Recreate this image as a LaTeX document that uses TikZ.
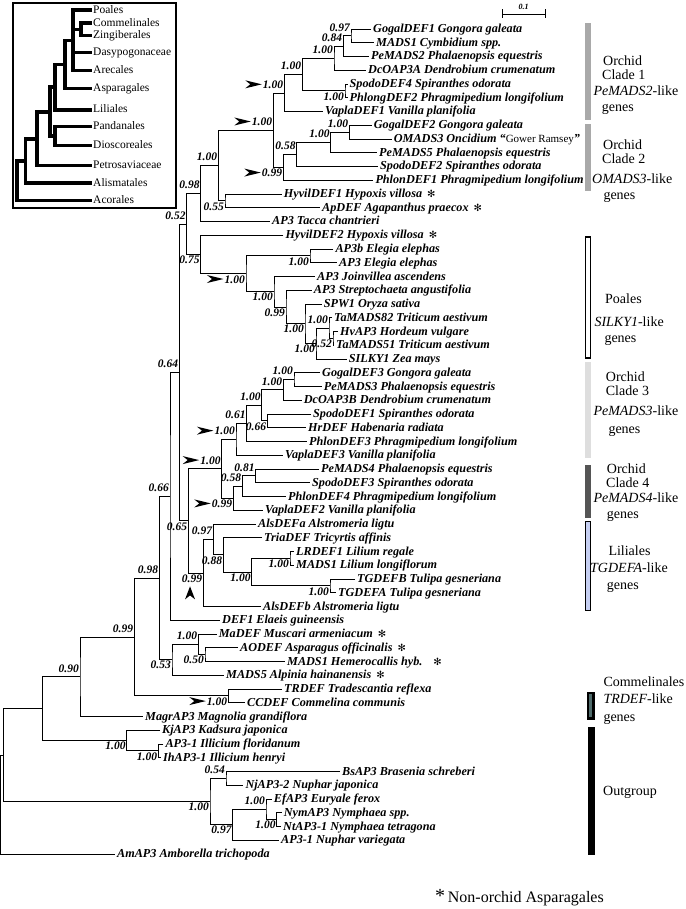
\documentclass[tikz,border=0pt]{standalone}
\usepackage{fontspec}
\setmainfont{Liberation Serif}
\newfontfamily\dejavu{DejaVu Sans}
\usetikzlibrary{calc}

\definecolor{cladegray}{HTML}{A9A9A9}
\definecolor{cladelight}{HTML}{DEDEDE}
\definecolor{cladedark}{HTML}{555555}
\definecolor{lilblue}{HTML}{C6CFF2}
\definecolor{commteal}{HTML}{4F6B6B}

\tikzstyle{branch} = [line width=0.9pt, line join=miter]
\tikzstyle{ibranch} = [line width=3.6pt, line join=miter]
\tikzstyle{leaf} = [anchor=west, inner sep=2pt, text height=9pt, text depth=2pt, font=\fontsize{12.2}{13}\selectfont\bfseries\itshape]
\tikzstyle{ileaf} = [anchor=west, inner sep=1pt, text height=8pt, text depth=2pt, font=\fontsize{11.5}{12}\selectfont]
\tikzstyle{sup} = [inner sep=1pt, text height=8pt, text depth=0pt, font=\fontsize{11.5}{12}\selectfont\bfseries\itshape]
\tikzstyle{supa} = [sup, anchor=south east, yshift=3.5pt]
\tikzstyle{supb} = [sup, anchor=north east]
\tikzstyle{grp} = [anchor=west, inner sep=0pt, text height=9pt, text depth=2.5pt, font=\fontsize{14}{15}\selectfont]
\tikzstyle{bar} = [line width=1.4pt]
\tikzset{pointer/.pic={\fill (0,0) -- (-16.5,4) -- (-11.5,0) -- (-16.5,-4) -- cycle;},
  uppointer/.pic={\fill (0,0) -- (-5,13) -- (0,9) -- (5,13) -- cycle;}}

% clade: [style]{name}{x}{upper child}{lower child}
\newcommand\clade[5][branch]{%
  \path let \p1=(#4), \p2=(#5) in coordinate (#2) at ({#3pt},{0.5*(\y1+\y2)});
  \draw[#1] (#4) -| (#2) |- (#5);}
\newcommand\nast{\hspace{5pt}{\dejavu\mdseries\upshape\fontsize{10}{10}\selectfont ✻}}

\begin{document}
\begin{tikzpicture}[x=1pt, y=-1pt]
\useasboundingbox (0,0) rectangle (685,909);
%begin leaves
\foreach \i/\x/\lab in {1/371/GogalDEF1 Gongora galeata, 2/374/MADS1 Cymbidium spp.,
  3/369/PeMADS2 Phalaenopsis equestris, 4/366/DcOAP3A Dendrobium crumenatum,
  5/347.5/SpodoDEF4 Spiranthes odorata, 6/347.5/PhlongDEF2 Phragmipedium longifolium,
  7/323/VaplaDEF1 Vanilla planifolia, 8/371.7/GogalDEF2 Gongora galeata,
  9/391.7/{OMADS3 Oncidium “{\mdseries\upshape\fontsize{11}{12}\selectfont Gower Ramsey}”},
  10/377/PeMADS5 Phalaenopsis equestris, 11/378/SpodoDEF2 Spiranthes odorata,
  12/373.3/PhlonDEF1 Phragmipedium longifolium, 13/281.7/HyvilDEF1 Hypoxis villosa\nast,
  14/320/ApDEF Agapanthus praecox\nast, 15/270/AP3 Tacca chantrieri,
  16/283.3/HyvilDEF2 Hypoxis villosa\nast, 17/333.3/AP3b Elegia elephas,
  18/337/AP3 Elegia elephas, 19/315/AP3 Joinvillea ascendens,
  20/311.7/AP3 Streptochaeta angustifolia, 21/321.7/SPW1 Oryza sativa,
  22/332/TaMADS82 Triticum aestivum, 23/338/HvAP3 Hordeum vulgare,
  24/334/TaMADS51 Triticum aestivum, 25/346.7/SILKY1 Zea mays,
  26/320/GogalDEF3 Gongora galeata, 27/321.7/PeMADS3 Phalaenopsis equestris,
  28/301.7/DcOAP3B Dendrobium crumenatum, 29/311/SpodoDEF1 Spiranthes odorata,
  30/306/HrDEF Habenaria radiata, 31/307/PhlonDEF3 Phragmipedium longifolium,
  32/283/VaplaDEF3 Vanilla planifolia, 33/319/PeMADS4 Phalaenopsis equestris,
  34/310/SpodoDEF3 Spiranthes odorata, 35/286/PhlonDEF4 Phragmipedium longifolium,
  36/263/VaplaDEF2 Vanilla planifolia, 37/256/AlsDEFa Alstromeria ligtu,
  38/262/TriaDEF Tricyrtis affinis, 39/294/LRDEF1 Lilium regale,
  40/294/MADS1 Lilium longiflorum, 41/355/TGDEFB Tulipa gesneriana,
  42/336/TGDEFA Tulipa gesneriana, 43/261/AlsDEFb Alstromeria ligtu,
  44/220/DEF1 Elaeis guineensis, 45/216.7/MaDEF Muscari armeniacum\nast,
  46/238/AODEF Asparagus officinalis\nast, 47/285/MADS1 Hemerocallis hyb.\hspace{6pt}\nast,
  48/224/MADS5 Alpinia hainanensis\nast, 49/282/TRDEF Tradescantia reflexa,
  50/245/CCDEF Commelina communis, 51/143/MagrAP3 Magnolia grandiflora,
  52/160/KjAP3 Kadsura japonica, 53/163.3/AP3-1 Illicium floridanum,
  54/161/IhAP3-1 Illicium henryi, 55/340/BsAP3 Brasenia schreberi,
  56/243.3/NjAP3-2 Nuphar japonica, 57/271.7/EfAP3 Euryale ferox,
  58/281.7/NymAP3 Nymphaea spp., 59/281/NtAP3-1 Nymphaea tetragona,
  60/279/AP3-1 Nuphar variegata, 61/115/AmAP3 Amborella trichopoda}{
  \coordinate (l\i) at (\x,{29+13.75*(\i-1)});
  \node[leaf] (t\i) at (l\i) {\lab};
}
%end leaves
%begin orchid clade 1
\clade{a1}{351}{l1}{l2}
\clade{a2}{343.3}{a1}{l3}
\clade{a3}{334}{a2}{l4}
\clade{a4}{345}{l5}{l6}
\clade{a5}{302.3}{a3}{a4}
\clade{a6}{284.3}{a5}{l7}
%end orchid clade 1
%begin orchid clade 2
\clade{b1}{349.3}{l8}{l9}
\clade{b2}{330.7}{b1}{l10}
\clade{b3}{296.7}{b2}{l11}
\clade{b4}{283.3}{b3}{l12}
%end orchid clade 2
\clade{ab}{273.3}{a6}{b4}
\clade{hy}{225}{l13}{l14}
\clade{abh}{218.3}{ab}{hy}
\clade{ta}{200.7}{abh}{l15}
%begin poales
\clade{p1}{310}{l17}{l18}
\clade{p2}{333}{l23}{l24}
\clade{p3}{329}{l22}{p2}
\clade{p4}{316}{p3}{l25}
\clade{p5}{305}{l21}{p4}
\clade{p6}{286}{l20}{p5}
\clade{p7}{274}{l19}{p6}
\clade{p8}{246}{p1}{p7}
\clade{p9}{200.7}{l16}{p8}
%end poales
\clade{q1}{186.7}{ta}{p9}
%begin orchid clades 3 and 4
\clade{c1}{294}{l26}{l27}
\clade{c2}{283.3}{c1}{l28}
\clade{c3}{267.3}{l29}{l30}
\clade{c4}{261.7}{c2}{c3}
\clade{c5}{246.7}{c4}{l31}
\clade{c6}{236}{c5}{l32}
\clade{d1}{255.7}{l33}{l34}
\clade{d2}{242.3}{d1}{l35}
\clade{d3}{233.3}{d2}{l36}
\clade{cd}{221.7}{c6}{d3}
%end orchid clades 3 and 4
%begin liliales
\clade{e1}{290}{l39}{l40}
\clade{e2}{330}{l41}{l42}
\clade{e3}{251.7}{e1}{e2}
\clade{e4}{223.3}{l38}{e3}
\clade{e5}{213.3}{l37}{e4}
\clade{e6}{203.3}{e5}{l43}
%end liliales
\clade{q2}{188.3}{cd}{e6}
\clade{q3}{179.3}{q1}{q2}
\clade{q4}{170}{q3}{l44}
%begin non-orchid asparagales
\clade{f1}{205}{l46}{l47}
\clade{f2}{198.3}{l45}{f1}
\clade{f3}{172}{f2}{l48}
%end non-orchid asparagales
\clade{q5}{159.3}{q4}{f3}
\clade{g1}{228.3}{l49}{l50}
\clade{q6}{134.3}{q5}{g1}
\clade{q7}{80}{q6}{l51}
\clade{h1}{158.3}{l53}{l54}
\clade{h2}{126.7}{l52}{h1}
\clade{q8}{42.7}{q7}{h2}
%begin nymphaeales
\clade{k1}{226}{l55}{l56}
\clade{k2}{276.7}{l58}{l59}
\clade{k3}{266}{l57}{k2}
\clade{k4}{232.7}{k3}{l60}
\clade{k5}{210}{k1}{k4}
%end nymphaeales
\clade{q9}{3.3}{q8}{k5}
\clade{root}{0.5}{q9}{l61}
%begin support values
\foreach \n/\v in {a1/0.97, a2/0.84, a3/1.00, a5/1.00, a6/1.00, b1/1.00, b2/1.00,
  b3/0.58, ab/1.00, abh/1.00, ta/0.98, p3/1.00, q1/0.52, c1/1.00, c2/1.00, c4/1.00,
  c5/0.61, c6/1.00, d1/0.81, d2/0.58, cd/1.00, e5/0.97, q3/0.64, q4/0.66, f2/1.00,
  q5/0.98, q6/0.99, q7/0.90, k1/0.54, k3/1.00}
  \node[supa] (s\n) at (\n) {\v};
\foreach \n/\v in {a4/1.00, b4/0.99, hy/0.55, p1/1.00, p2/0.52, p4/1.00, p5/1.00,
  p6/0.99, p7/1.00, p8/1.00, p9/0.75, c3/0.66, d3/0.99, e1/1.00, e2/1.00, e3/1.00,
  e4/0.88, e6/0.99, q2/0.65, f1/0.50, f3/0.53, g1/1.00, h1/1.00, h2/1.00, k2/1.00,
  k4/0.97, k5/1.00}
  \node[supb] (s\n) at (\n) {\v};
\foreach \n in {a6,ab,b4,p8,c6,cd,d3,g1}
  \pic at (s\n.west) {pointer};
\pic at ([xshift=-2pt, yshift=-3pt]se6.south) {uppointer};
%end support values
%begin scale bar
\coordinate (sb1) at (502,14);
\coordinate (sb2) at (545,14);
\draw[branch] (sb1) -- (sb2) ([yshift=4.5pt]sb1) -- ([yshift=-4.5pt]sb1)
  ([yshift=4.5pt]sb2) -- ([yshift=-4.5pt]sb2);
\node[font=\fontsize{8}{9}\selectfont\bfseries\itshape, inner sep=0pt] (sbl) at (523.5,6.5) {0.1};
%end scale bar
%begin group bars
\fill[cladegray] (585,22.7) rectangle (591,120);
\fill[cladegray] (585,124) rectangle (591,190.7);
\draw[bar, fill=white] (585.5,237) rectangle (590.5,358);
\fill[cladelight] (585,361.7) rectangle (591,458.3);
\fill[cladedark] (585,465) rectangle (591,518.3);
\draw[bar, fill=lilblue] (585.3,521.3) rectangle (590.7,610.3);
\draw[line width=2.5pt, fill=commteal] (588,693) rectangle (593.7,718.7);
\fill (588.3,726.7) rectangle (595.3,855);
\foreach \x/\y/\lab [count=\k] in {603/62.3/Orchid, 602/76/Clade 1,
  593.3/92.7/\textit{PeMADS2}-like, 601.7/108.3/genes,
  603/146.7/Orchid, 602/160/Clade 2, 592/180/\textit{OMADS3}-like, 603.3/196/genes,
  605/300/Poales, 594.3/323.3/\textit{SILKY1}-like, 604.3/339.3/genes,
  605.7/378.3/Orchid, 605.7/392.7/Clade 3, 593.3/412.7/\textit{PeMADS3}-like, 608.3/430/genes,
  606.7/470/Orchid, 606/484/Clade 4, 593.3/499/\textit{PeMADS4}-like, 606.7/515/genes,
  608.3/552.7/Liliales, 590/569.3/\textit{TGDEFA}-like, 606.7/586/genes,
  603.3/683.3/Commelinales, 603.3/700/\textit{TRDEF}-like, 603.3/718.3/genes,
  603/792/Outgroup}
  \node[grp] (grp\k) at (\x,\y) {\lab};
%end group bars
\node[anchor=base west, inner sep=0pt, font=\fontsize{16}{17}\selectfont] (foot) at (435,902)
  {{\fontsize{20}{20}\selectfont *}\,Non-orchid Asparagales};
%begin inset
\draw[line width=2.6pt] (13,3) rectangle (176,208);
\foreach \i/\y/\lab in {1/10.3/Poales, 2/23.3/Commelinales, 3/35.7/Zingiberales,
  4/52.7/Dasypogonaceae, 5/70.7/Arecales, 6/88.7/Asparagales, 7/110/Liliales,
  8/126.7/Pandanales, 9/145.7/Dioscoreales, 10/165.7/Petrosaviaceae,
  11/183.3/Alismatales, 12/200.7/Acorales}{
  \coordinate (m\i) at (92,\y);
  \node[ileaf] (u\i) at (m\i) {\lab};
}
\clade[ibranch]{v1}{80.7}{m2}{m3}
\clade[ibranch]{v2}{72.7}{m1}{m5}
\draw[ibranch] (v2 |- v1) -- (v1) (v2 |- m4) -- (m4);
\clade[ibranch]{v3}{65}{v2}{m6}
\clade[ibranch]{v4}{55}{v3}{m7}
\clade[ibranch]{v5}{55}{m8}{m9}
\clade[ibranch]{v6}{50}{v4}{v5}
\clade[ibranch]{v7}{36.7}{v6}{m10}
\clade[ibranch]{v8}{25.5}{v7}{m11}
\clade[ibranch]{v9}{17}{v8}{m12}
%end inset
\end{tikzpicture}
\end{document}
